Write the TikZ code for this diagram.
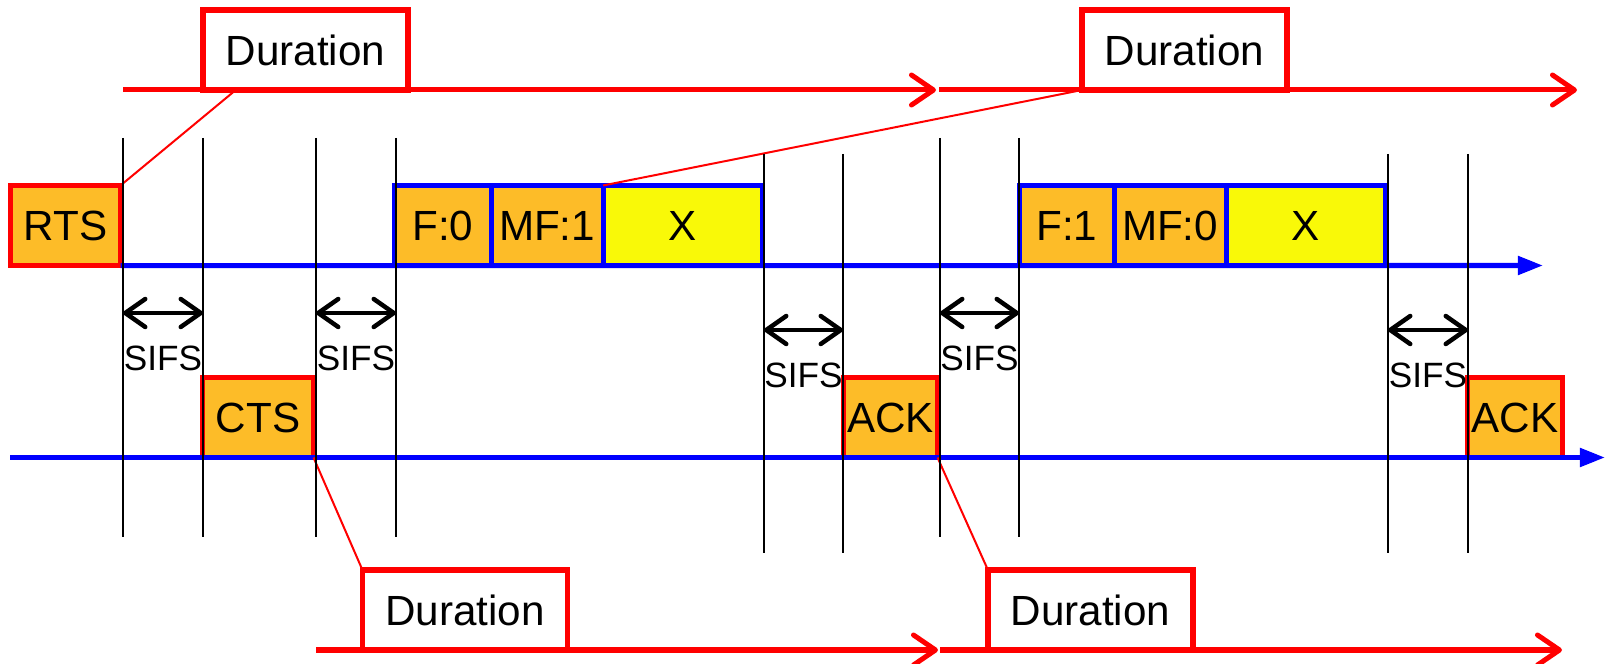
\documentclass[tikz,border=0pt]{standalone}
\usepackage{fontspec}
\setmainfont{Liberation Sans}
\usetikzlibrary{arrows.meta,positioning,calc}
\definecolor{ctlorange}{RGB}{253,188,40}
\definecolor{datayellow}{RGB}{249,249,8}

\begin{document}
\begin{tikzpicture}[x=0.01cm, y=-0.01cm,
  lbl/.style={font=\fontsize{12}{14}\selectfont},
  ctl/.style={lbl, fill=ctlorange, draw=red, line width=0.055cm, minimum height=0.8cm, inner sep=0pt, outer sep=0pt},
  cell/.style={lbl, draw=blue, line width=0.05cm, minimum height=0.8cm, inner sep=0pt, outer sep=0pt},
  dur/.style={lbl, draw=red, fill=white, line width=0.055cm, minimum width=2.05cm, minimum height=0.8cm, inner sep=0pt, outer sep=0pt},
  navline/.style={red, line width=0.05cm, -{Straight Barb[length=0.22cm,width=0.3cm,round]}},
  medium/.style={blue, line width=0.05cm, -{Triangle[length=0.25cm,width=0.18cm]}},
  link/.style={red, line width=0.02cm},
  slot/.style={black, line width=0.02cm},
  sifs/.style={line width=0.045cm, {Straight Barb[length=0.2cm,width=0.28cm,round]}-{Straight Barb[length=0.2cm,width=0.28cm,round]}}]
  \useasboundingbox (0,0) rectangle (1608,664);

  % control frames
  \node (rts) [ctl, minimum width=1.1cm] at (65.5,225.5) {RTS};
  \node (cts) [ctl, minimum width=1.11cm] at (258,417.5) {CTS};
  \node (ack1) [ctl, minimum width=0.94cm] at (890.5,417.5) {ACK};
  \node (ack2) [ctl, minimum width=0.95cm] at (1515,417.5) {ACK};

  % the two media lines
  \coordinate (upend) at (1543,265.5);
  \coordinate (lowstart) at (10,457.5);
  \coordinate (lowend) at (1605,457.5);
  \draw [medium] (rts.south east) -- (upend);
  \draw [medium] (lowstart) -- (lowend);

  % fragments
  \node (f0) [cell, fill=ctlorange, minimum width=0.965cm, anchor=west] at (394.5,225.5) {F:0};
  \node (mf1) [cell, fill=ctlorange, minimum width=1.12cm, right=0pt of f0] {MF:1};
  \node (x1) [cell, fill=datayellow, minimum width=1.595cm, right=0pt of mf1] {X};
  \node (f1) [cell, fill=ctlorange, minimum width=0.945cm, anchor=west] at (1019.5,225.5) {F:1};
  \node (mf0) [cell, fill=ctlorange, minimum width=1.12cm, right=0pt of f1] {MF:0};
  \node (x2) [cell, fill=datayellow, minimum width=1.595cm, right=0pt of mf0] {X};

  % NAV durations
  \coordinate (t1s) at (123,90);
  \coordinate (t1) at (936,90);
  \coordinate (t2s) at (939,90);
  \coordinate (t2) at (1577,90);
  \coordinate (b1s) at (316,650);
  \coordinate (b1) at (938,650);
  \coordinate (b2s) at (940,650);
  \coordinate (b2) at (1562,650);
  \draw [navline] (t1s) -- (t1);
  \draw [navline] (t2s) -- (t2);
  \draw [navline] (b1s) -- (b1);
  \draw [navline] (b2s) -- (b2);
  \node (dur1) [dur] at (305.5,50) {Duration};
  \node (dur2) [dur] at (1184.5,50) {Duration};
  \node (dur3) [dur] at (465,610) {Duration};
  \node (dur4) [dur] at (1090.5,610) {Duration};

  \draw [link] (rts.north east) -- ($(dur1.south west)!0.16!(dur1.south east)$);
  \draw [link] (mf1.north east) -- (dur2.south west);
  \draw [link] (cts.south east) -- (dur3.north west);
  \draw [link] (ack1.south east) -- (dur4.north west);

  % slot boundaries
  \foreach \x/\t/\b in {123/138/537, 203/138/537, 316/138/537, 396/138/537,
                        764/154/553, 843/154/553, 940/138/537, 1019/138/537,
                        1388/154/553, 1468/154/553}
    \draw [slot] (\x,\t) -- (\x,\b);

  % SIFS gaps
  \foreach \a/\b/\y [count=\i] in {123/203/313, 316/396/313, 764/843/330, 940/1019/313, 1388/1468/330}
    \draw [sifs] (\a,\y) -- (\b,\y) node (sifs\i) [midway, yshift=-0.45cm, font=\fontsize{10}{12}\selectfont] {SIFS};
\end{tikzpicture}
\end{document}
